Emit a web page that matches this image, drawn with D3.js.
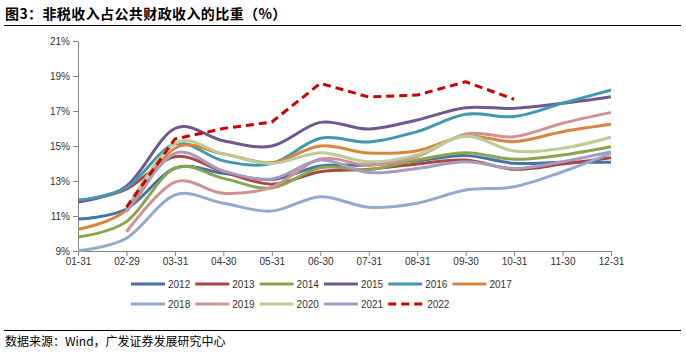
<!DOCTYPE html>
<html><head><meta charset="utf-8">
<script src="https://cdn.jsdelivr.net/npm/d3@7"></script>
<style>body{margin:0;background:#fff}svg{display:block}</style>
</head><body>
<svg id="c" width="686" height="357"></svg>
<script>
const categories = ["01-31","02-29","03-31","04-30","05-31","06-30","07-31","08-31","09-30","10-31","11-30","12-31"];
const yTicks = [9,11,13,15,17,19,21];
const years = ["2012","2013","2014","2015","2016","2017","2018","2019","2020","2021","2022"];
const s2012 = [10.83,11.40,13.73,13.44,13.08,13.86,13.91,14.14,14.45,14.01,14.07,14.07];
const s2013 = [11.85,12.54,14.39,13.53,12.82,13.53,13.67,13.97,14.20,13.67,13.97,14.33];
const s2014 = [9.80,10.68,13.73,13.15,12.60,13.76,13.65,14.20,14.62,14.24,14.49,14.96];
const s2015 = [11.80,12.71,16.00,15.30,15.00,16.35,15.97,16.49,17.19,17.15,17.44,17.82];
const s2016 = [11.91,12.62,15.12,14.15,14.00,15.44,15.23,15.82,16.81,16.68,17.44,18.20];
const s2017 = [10.24,11.34,14.87,14.55,14.05,15.00,14.60,14.73,15.57,15.25,15.82,16.24];
const s2018 = [9.02,9.73,12.20,11.73,11.28,12.10,11.50,11.73,12.49,12.67,13.53,14.58];
const s2019 = [null,10.10,12.93,12.30,12.65,14.26,13.91,14.40,15.69,15.53,16.30,16.92];
const s2020 = [null,11.40,15.15,14.55,14.00,14.62,14.10,14.49,15.57,14.71,14.87,15.50];
const s2021 = [null,11.25,14.58,13.57,13.12,14.20,13.48,13.72,14.10,13.72,14.10,14.67];
const s2022 = [null,11.50,15.40,16.00,16.37,18.58,17.80,17.91,18.67,17.67,null,null];
const seriesValues = [s2012,s2013,s2014,s2015,s2016,s2017,s2018,s2019,s2020,s2021,s2022];
const colors = ["#4572A7","#AA4643","#89A54E","#71588F","#4198AF","#DB843D","#93A9CF","#D19392","#B9CD96","#A99BBD","#CC0000"];

const svg = d3.select("#c");
const x = d3.scalePoint().domain(categories).range([78, 611]);
const y = d3.scaleLinear().domain([9, 21]).range([251, 41]);

// title & rules
svg.append("text").attr("x", 5).attr("y", 19)
  .attr("font-family", "'Noto Sans CJK SC', sans-serif").attr("font-weight", "bold")
  .attr("font-size", 14).attr("letter-spacing", 0.4).attr("fill", "#000").text("图3：非税收入占公共财政收入的比重（%）");
svg.append("line").attr("x1", 4).attr("x2", 681).attr("y1", 25.5).attr("y2", 25.5).attr("stroke", "#000").attr("stroke-width", 1);
svg.append("line").attr("x1", 4).attr("x2", 681).attr("y1", 330.5).attr("y2", 330.5).attr("stroke", "#000").attr("stroke-width", 1);
svg.append("text").attr("x", 5).attr("y", 346)
  .attr("font-family", "'Noto Sans CJK SC', sans-serif")
  .attr("font-size", 12).attr("fill", "#000").text("数据来源：Wind，广发证券发展研究中心");

// axes
const yAxis = svg.append("g").attr("transform", "translate(78,0)")
  .call(d3.axisLeft(y).tickValues(yTicks).tickFormat(d => d + "%").tickSize(5).tickSizeOuter(0));
const xAxis = svg.append("g").attr("transform", "translate(0,251)")
  .call(d3.axisBottom(x).tickSize(5).tickSizeOuter(0));
[yAxis, xAxis].forEach(g => {
  g.select(".domain").attr("stroke", "#868686");
  g.selectAll(".tick line").attr("stroke", "#868686");
  g.selectAll("text").attr("font-family", "'Liberation Sans', Arial, sans-serif").attr("font-size", 10).attr("fill", "#333");
});
yAxis.selectAll("text").attr("x", -8);
xAxis.selectAll("text").attr("y", 7);

// lines
const smooth = d3.line().defined(d => d.v != null).x(d => x(d.c)).y(d => y(d.v)).curve(d3.curveCardinal.tension(0));
const straight = d3.line().defined(d => d.v != null).x(d => x(d.c)).y(d => y(d.v));
const plot = svg.append("g");
seriesValues.forEach((vals, i) => {
  const pts = vals.map((v, j) => ({c: categories[j], v}));
  const is22 = years[i] === "2022";
  plot.append("path").attr("d", (is22 ? straight : smooth)(pts))
    .attr("fill", "none").attr("stroke", colors[i]).attr("stroke-width", 3)
    .attr("stroke-dasharray", is22 ? "8,5" : null).attr("stroke-linejoin", "round");
});

// legend
const lg = svg.append("g");
years.forEach((yr, i) => {
  const row = i < 6 ? 0 : 1;
  const col = i < 6 ? i : i - 6;
  const lx = 131 + col * 64.3;
  const ly = 284 + row * 20;
  lg.append("line").attr("x1", lx).attr("x2", lx + 34).attr("y1", ly).attr("y2", ly)
    .attr("stroke", colors[i]).attr("stroke-width", 3)
    .attr("stroke-dasharray", yr === "2022" ? "8,5" : null);
  lg.append("text").attr("x", lx + (yr === "2022" ? 39 : 37)).attr("y", ly + 3.5)
    .attr("font-family", "'Liberation Sans', Arial, sans-serif").attr("font-size", 10).attr("fill", "#333").text(yr);
});
</script>
</body></html>
